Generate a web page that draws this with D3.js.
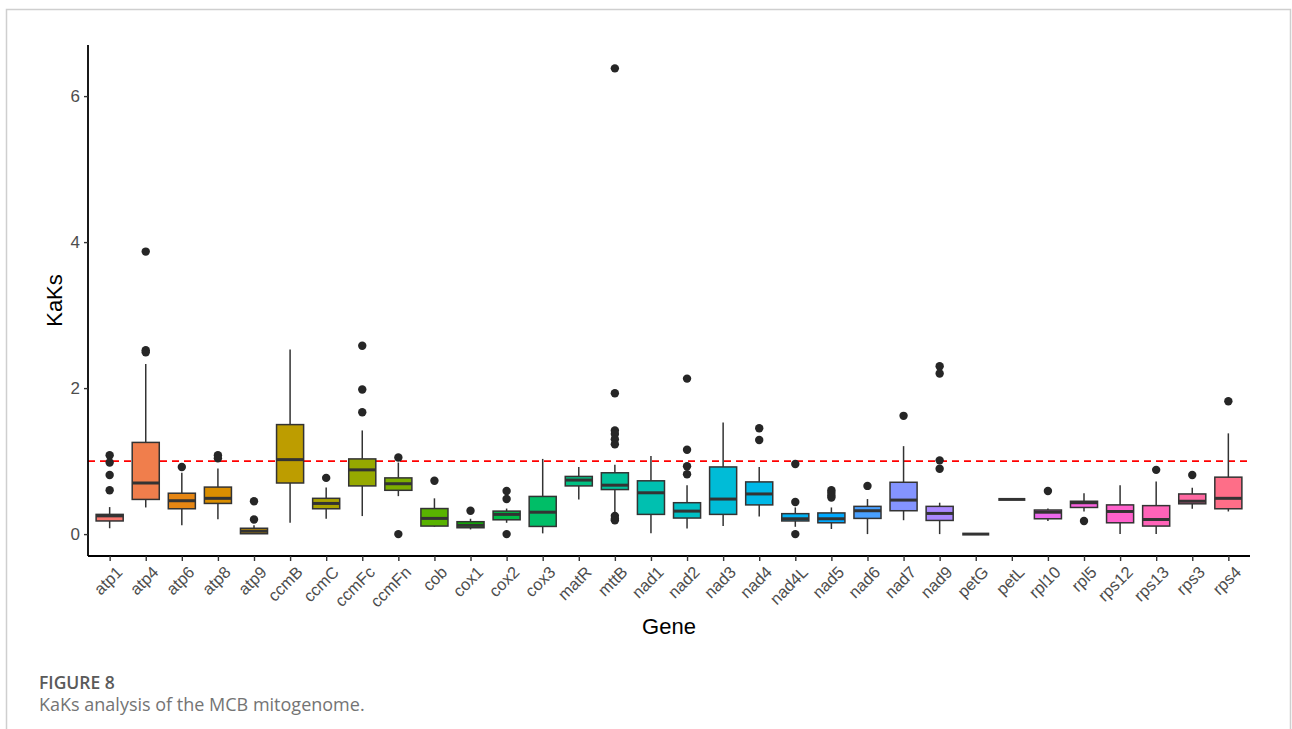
<!DOCTYPE html>
<html>
<head>
<meta charset="utf-8">
<script src="https://cdn.jsdelivr.net/npm/d3@7"></script>
<style>
  html, body { margin: 0; padding: 0; background: #ffffff; }
  svg { display: block; }
</style>
</head>
<body>
<svg id="chart" width="1292" height="729"></svg>
<script>
// Ka/Ks boxplot summary per mitochondrial gene
const genes = ["atp1","atp4","atp6","atp8","atp9","ccmB","ccmC","ccmFc","ccmFn","cob",
  "cox1","cox2","cox3","matR","mttB","nad1","nad2","nad3","nad4","nad4L",
  "nad5","nad6","nad7","nad9","petG","petL","rpl10","rpl5","rps12","rps13","rps3","rps4"];

const whiskerLow = [0.08,0.365,0.12,0.205,0.00,0.155,0.21,0.247,0.52,0.10,
  0.064,0.155,0.01,0.475,0.28,0.01,0.078,0.11,0.24,0.10,
  0.07,0.00,0.19,0.00,0.00,0.475,0.18,0.31,0.00,0.00,0.347,0.31];
const q1 = [0.18,0.475,0.347,0.42,0.005,0.70,0.347,0.66,0.60,0.11,
  0.087,0.196,0.105,0.66,0.61,0.27,0.22,0.27,0.40,0.18,
  0.155,0.215,0.32,0.187,0.00,0.475,0.21,0.365,0.155,0.11,0.415,0.347];
const median = [0.25,0.70,0.457,0.49,0.04,1.02,0.42,0.88,0.69,0.215,
  0.12,0.27,0.30,0.74,0.67,0.566,0.315,0.48,0.55,0.21,
  0.21,0.32,0.466,0.283,0.00,0.475,0.30,0.43,0.31,0.20,0.45,0.49];
const q3 = [0.27,1.256,0.56,0.644,0.08,1.50,0.49,1.03,0.77,0.35,
  0.17,0.315,0.516,0.79,0.84,0.73,0.43,0.92,0.715,0.28,
  0.29,0.38,0.71,0.38,0.00,0.475,0.33,0.45,0.40,0.39,0.55,0.78];
const whiskerHigh = [0.37,2.33,0.84,0.90,0.12,2.53,0.64,1.42,0.98,0.49,
  0.21,0.35,1.03,0.92,0.95,1.07,0.67,1.53,0.92,0.365,
  0.365,0.48,1.205,0.43,0.00,0.475,0.35,0.56,0.67,0.72,0.635,1.38];
const outliers = [
  [1.08,0.98,0.81,0.60],          // atp1
  [3.87,2.52,2.49],               // atp4
  [0.92],                         // atp6
  [1.08,1.04],                    // atp8
  [0.20,0.45],                    // atp9
  [],                             // ccmB
  [0.77],                         // ccmC
  [1.67,1.98,2.58],               // ccmFc
  [1.05,0.00],                    // ccmFn
  [0.73],                         // cob
  [0.32],                         // cox1
  [0.59,0.48,0.00],               // cox2
  [],                             // cox3
  [],                             // matR
  [6.38,1.93,1.42,1.37,1.30,1.23,0.25,0.21,0.19], // mttB
  [],                             // nad1
  [2.13,1.155,0.93,0.82],         // nad2
  [],                             // nad3
  [1.29,1.45],                    // nad4
  [0.96,0.44,0.00],               // nad4L
  [0.60,0.566,0.53,0.50],         // nad5
  [0.66],                         // nad6
  [1.62],                         // nad7
  [2.30,2.20,1.01,0.895],         // nad9
  [],                             // petG
  [],                             // petL
  [0.59],                         // rpl10
  [0.18],                         // rpl5
  [],                             // rps12
  [0.88],                         // rps13
  [0.81],                         // rps3
  [1.82]                          // rps4
];
const yTicks = [0, 2, 4, 6];
const threshold = 1;

// ggplot-style hue palette (polar LUV, c = 100, l = 65)
function hclColor(h, c, l) {
  const hr = h * Math.PI / 180;
  const U = c * Math.cos(hr), V = c * Math.sin(hr);
  const Xn = 95.047, Yn = 100, Zn = 108.883;
  const Y = l > 8 ? Yn * Math.pow((l + 16) / 116, 3) : Yn * l / 903.3;
  const t = Xn + 15 * Yn + 3 * Zn;
  const un = 4 * Xn / t, vn = 9 * Yn / t;
  const u = U / (13 * l) + un, v = V / (13 * l) + vn;
  const X = 9 * Y * u / (4 * v);
  const Z = -X / 3 - 5 * Y + 3 * Y / v;
  const x = X / 100, y = Y / 100, z = Z / 100;
  const lin = [
    3.240479 * x - 1.537150 * y - 0.498535 * z,
   -0.969256 * x + 1.875992 * y + 0.041556 * z,
    0.055648 * x - 0.204043 * y + 1.057311 * z
  ];
  const g = lin.map(a => {
    let s = a <= 0.0031308 ? 12.92 * a : 1.055 * Math.pow(a, 1 / 2.4) - 0.055;
    return Math.round(Math.max(0, Math.min(1, s)) * 255);
  });
  return d3.rgb(g[0], g[1], g[2]).formatHex();
}
const n = genes.length;
const color = d3.scaleOrdinal()
  .domain(genes)
  .range(d3.range(n).map(i => hclColor(15 + i * 360 / n, 100, 65)));

const svg = d3.select("#chart");

// figure frame
svg.append("path")
  .attr("d", "M6.5,729 V9.5 H1290.5 V729")
  .attr("fill", "none")
  .attr("stroke", "#cfcfcf")
  .attr("stroke-width", 1.5);

const panel = { left: 88, right: 1250, top: 45, bottom: 556 };

const x = d3.scalePoint().domain(genes).range([panel.left, panel.right]).padding(0.6);
const y = d3.scaleLinear().domain([-0.30, 6.70]).range([panel.bottom, panel.top]);
const boxW = x.step() * 0.75;
const ink = "#333333";

const rows = genes.map((g, i) => ({
  gene: g, lo: whiskerLow[i], q1: q1[i], med: median[i], q3: q3[i], hi: whiskerHigh[i], out: outliers[i]
}));

// threshold line Ka/Ks = 1
svg.append("line")
  .attr("x1", panel.left).attr("x2", panel.right)
  .attr("y1", y(threshold)).attr("y2", y(threshold))
  .attr("stroke", "#ff0000")
  .attr("stroke-width", 1.7)
  .attr("stroke-dasharray", "7,5");

const groups = svg.append("g").selectAll("g.box")
  .data(rows).join("g").attr("class", "box");

// whiskers
groups.append("line")
  .attr("x1", d => x(d.gene)).attr("x2", d => x(d.gene))
  .attr("y1", d => y(d.q3)).attr("y2", d => y(d.hi))
  .attr("stroke", ink).attr("stroke-width", 1.5);
groups.append("line")
  .attr("x1", d => x(d.gene)).attr("x2", d => x(d.gene))
  .attr("y1", d => y(d.q1)).attr("y2", d => y(d.lo))
  .attr("stroke", ink).attr("stroke-width", 1.5);

// boxes
groups.append("rect")
  .attr("x", d => x(d.gene) - boxW / 2)
  .attr("width", boxW)
  .attr("y", d => y(d.q3))
  .attr("height", d => y(d.q1) - y(d.q3))
  .attr("fill", d => color(d.gene))
  .attr("stroke", ink)
  .attr("stroke-width", 1.5);

// medians
groups.append("line")
  .attr("x1", d => x(d.gene) - boxW / 2).attr("x2", d => x(d.gene) + boxW / 2)
  .attr("y1", d => y(d.med)).attr("y2", d => y(d.med))
  .attr("stroke", ink).attr("stroke-width", 3);

// outliers
groups.selectAll("circle")
  .data(d => d.out.map(v => ({ gene: d.gene, v })))
  .join("circle")
  .attr("cx", d => x(d.gene))
  .attr("cy", d => y(d.v))
  .attr("r", 4.2)
  .attr("fill", "#262626");

// axes
const xAxis = svg.append("g")
  .attr("transform", `translate(0,${panel.bottom})`)
  .call(d3.axisBottom(x).tickSize(5).tickSizeOuter(0));
xAxis.select(".domain").attr("stroke", "#000").attr("stroke-width", 1.8)
  .attr("d", `M${panel.left},0H${panel.right}`);
xAxis.selectAll(".tick line").attr("stroke", ink).attr("stroke-width", 1.4);
xAxis.selectAll(".tick text")
  .attr("font-family", "'Liberation Sans', Arial, sans-serif")
  .attr("font-size", 16.5)
  .attr("fill", "#4d4d4d")
  .attr("text-anchor", "end")
  .attr("x", 0).attr("y", 0).attr("dy", "0.71em")
  .attr("transform", "translate(5,9) rotate(-45)");

const yAxis = svg.append("g")
  .attr("transform", `translate(${panel.left},0)`)
  .call(d3.axisLeft(y).tickValues(yTicks).tickFormat(d3.format("d")).tickSize(4).tickSizeOuter(0));
yAxis.select(".domain").attr("stroke", "#000").attr("stroke-width", 1.8)
  .attr("d", `M0,${panel.top}V${panel.bottom}`);
yAxis.selectAll(".tick line").attr("stroke", ink).attr("stroke-width", 1.4);
yAxis.selectAll(".tick text")
  .attr("font-family", "'Liberation Sans', Arial, sans-serif")
  .attr("font-size", 17)
  .attr("fill", "#4d4d4d")
  .attr("x", -8);

// axis titles
svg.append("text")
  .attr("transform", `translate(62,${(panel.top + panel.bottom) / 2}) rotate(-90)`)
  .attr("text-anchor", "middle")
  .attr("font-family", "'Liberation Sans', Arial, sans-serif")
  .attr("font-size", 22)
  .attr("fill", "#000")
  .text("KaKs");
svg.append("text")
  .attr("x", (panel.left + panel.right) / 2)
  .attr("y", 634)
  .attr("text-anchor", "middle")
  .attr("font-family", "'Liberation Sans', Arial, sans-serif")
  .attr("font-size", 22)
  .attr("fill", "#000")
  .text("Gene");

// caption
svg.append("text")
  .attr("x", 39).attr("y", 689)
  .attr("font-family", "'Open Sans', sans-serif")
  .attr("font-size", 17.5).attr("font-weight", 600)
  .attr("fill", "#5a5a5a")
  .text("FIGURE 8");
svg.append("text")
  .attr("x", 39).attr("y", 711)
  .attr("font-family", "'Open Sans', sans-serif")
  .attr("font-size", 18).attr("font-weight", 400)
  .attr("fill", "#747474")
  .text("KaKs analysis of the MCB mitogenome.");
</script>
</body>
</html>
